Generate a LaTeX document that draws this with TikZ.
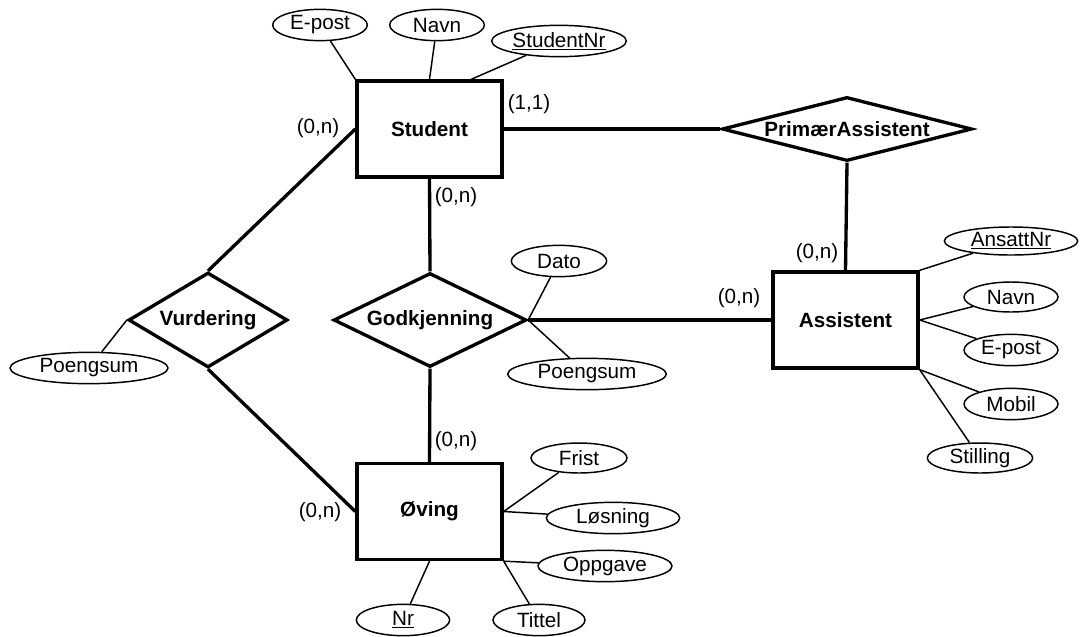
\documentclass[tikz,border=0pt]{standalone}
\usepackage{fontspec}
\setmainfont{Liberation Sans}
\usetikzlibrary{shapes.geometric}

\tikzset{
  every node/.style={font=\fontsize{15.5pt}{18pt}\selectfont},
  entity/.style={draw,line width=2.5pt,rectangle,minimum width=108.75pt,minimum height=72pt,inner sep=0pt,font=\fontsize{15.5pt}{18pt}\selectfont\bfseries},
  relation/.style={draw,line width=2.5pt,diamond,inner sep=0pt,font=\fontsize{15.5pt}{18pt}\selectfont\bfseries},
  attr/.style={draw,line width=1.1pt,ellipse,inner sep=0pt,minimum height=23.5pt},
  link/.style={line width=2.5pt},
  attrline/.style={line width=1.1pt},
}

\begin{document}
\begin{tikzpicture}[x=0.75pt,y=0.75pt,yscale=-1,xscale=1]
\useasboundingbox (0,0) rectangle (1080,636);

% Entities
\node (student) at (429.5,129) [entity] {Student};
\node (assist) at (845.5,320) [entity] {Assistent};
\node (oving) at (429.5,511.5) [entity] {Øving};

% Relations
\node (primaer) at (847,129) [relation,shape aspect=3.9,minimum width=187.5pt,minimum height=48pt] {PrimærAssistent};
\node (godk) at (430,320) [relation,shape aspect=2.05,minimum width=144.75pt,minimum height=70.5pt] {Godkjenning};
\node (vurd) at (208,320) [relation,shape aspect=1.67,minimum width=119.25pt,minimum height=71.25pt] {Vurdering};

% Attributes of Student
\node (sEpost) at (320,25) [attr,minimum width=71pt] {E-post};
\node (sNavn) at (437,25) [attr,minimum width=71pt] {Navn};
\node (sNr) at (559,41) [attr,minimum width=101pt] {\underline{StudentNr}};

% Attributes of Assistent
\node (aNr) at (1011,241) [attr,minimum width=100pt,minimum height=21pt] {\underline{AnsattNr}};
\node (aNavn) at (1011,297) [attr,minimum width=70.5pt,minimum height=22.5pt] {Navn};
\node (aEpost) at (1011,350) [attr,minimum width=70.5pt] {E-post};
\node (aMobil) at (1011,404) [attr,minimum width=70.5pt] {Mobil};
\node (aStilling) at (980,458) [attr,minimum width=79pt,minimum height=22.5pt] {Stilling};

% Attributes of Godkjenning and Vurdering
\node (gDato) at (559,261) [attr,minimum width=71.5pt] {Dato};
\node (gPoeng) at (587,374) [attr,minimum width=119pt] {Poengsum};
\node (vPoeng) at (89,368) [attr,minimum width=118.5pt] {Poengsum};

% Attributes of Øving
\node (oFrist) at (579,458) [attr,minimum width=72pt,minimum height=22.5pt] {Frist};
\node (oLosning) at (613,518) [attr,minimum width=100pt] {Løsning};
\node (oOppgave) at (605,566) [attr,minimum width=100.5pt] {Oppgave};
\node (oNr) at (403,620) [attr,minimum width=70pt] {\underline{Nr}};
\node (oTittel) at (539,620) [attr,minimum width=69pt] {Tittel};

% Relationship lines
\draw [link] (student.east) -- (primaer.west);
\draw [link] (primaer.south) -- (assist.north);
\draw [link] (student.south) -- (godk.north);
\draw [link] (godk.south) -- (oving.north);
\draw [link] (godk.east) -- (assist.west);
\draw [link] (vurd.north) -- (student.west);
\draw [link] (vurd.south) -- (oving.west);

% Attribute lines
\draw [attrline] (sEpost) -- (student.north west);
\draw [attrline] (sNavn) -- (student.north);
\draw [attrline] (sNr) -- (student.50);
\draw [attrline] (aNr) -- (assist.north east);
\draw [attrline] (aNavn) -- (assist.east);
\draw [attrline] (aEpost) -- (assist.east);
\draw [attrline] (aMobil) -- (assist.south east);
\draw [attrline] (aStilling) -- (assist.south east);
\draw [attrline] (gDato) -- (godk.east);
\draw [attrline] (gPoeng) -- (godk.east);
\draw [attrline] (vPoeng) -- (vurd.west);
\draw [attrline] (oFrist) -- (oving.east);
\draw [attrline] (oLosning) -- (oving.east);
\draw [attrline] (oOppgave) -- (oving.south east);
\draw [attrline] (oNr) -- (oving.south);
\draw [attrline] (oTittel) -- (oving.south east);

% Cardinalities
\node (c11) at (529,104) {(1,1)};
\node (cStudL) at (318,128) {(0,n)};
\node (cStudB) at (456,197) {(0,n)};
\node (cAssT) at (817,253) {(0,n)};
\node (cAssL) at (739,298) {(0,n)};
\node (cOvT) at (456,441) {(0,n)};
\node (cOvL) at (320,512) {(0,n)};

\end{tikzpicture}
\end{document}
